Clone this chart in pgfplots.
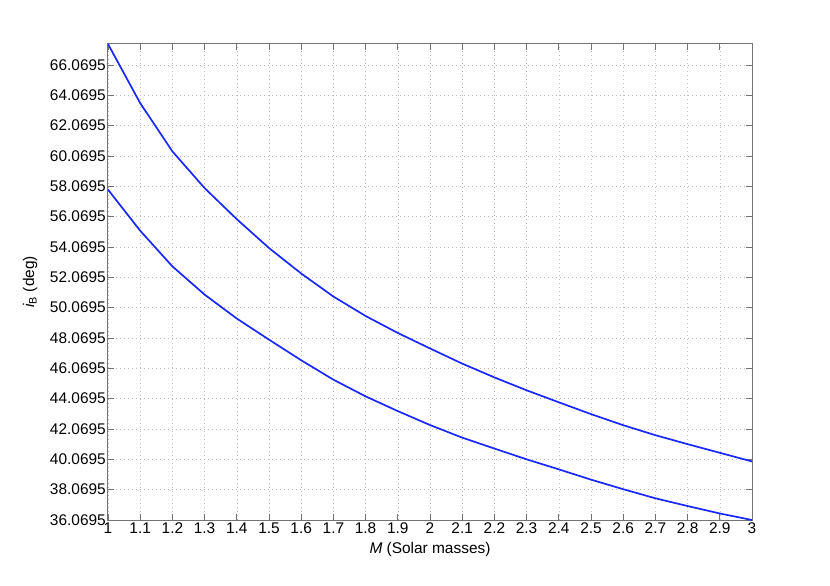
\documentclass[border=0pt]{standalone}
\usepackage{fontspec}
\setmainfont{Liberation Sans}
\usepackage{pgfplots}
\pgfplotsset{compat=1.18}
\usetikzlibrary{calc}
\definecolor{mlblue}{RGB}{25,40,255}

\begin{document}
\begin{tikzpicture}
\begin{axis}[
    scale only axis,
    width=644bp, height=476bp,
    xmin=1, xmax=3,
    ymin=36.0695, ymax=67.45,
    xtick={1,1.1,1.2,1.3,1.4,1.5,1.6,1.7,1.8,1.9,2,2.1,2.2,2.3,2.4,2.5,2.6,2.7,2.8,2.9,3},
    xticklabels={1,1.1,1.2,1.3,1.4,1.5,1.6,1.7,1.8,1.9,2,2.1,2.2,2.3,2.4,2.5,2.6,2.7,2.8,2.9,3},
    ytick={36.0695,38.0695,40.0695,42.0695,44.0695,46.0695,48.0695,50.0695,52.0695,54.0695,56.0695,58.0695,60.0695,62.0695,64.0695,66.0695},
    yticklabels={36.0695,38.0695,40.0695,42.0695,44.0695,46.0695,48.0695,50.0695,52.0695,54.0695,56.0695,58.0695,60.0695,62.0695,64.0695,66.0695},
    grid=major,
    major grid style={dash pattern=on 1bp off 3bp, gray!55, line width=0.6bp},
    axis line style={gray!90!black, line width=1bp},
    tick style={gray!90!black, line width=0.8bp},
    tick align=inside,
    major tick length=6bp,
    tick label style={font=\fontsize{15.5}{18}\selectfont},
    xticklabel style={inner sep=2bp, yshift=-1bp},
    yticklabel style={inner sep=2bp},
    label style={font=\fontsize{15.5}{18}\selectfont},
    xlabel={\textit{M} (Solar masses)},
    ylabel={\textit{i}\textsubscript{B} (deg)},
    xlabel style={at={(rel axis cs:0.5,-0.063)}, anchor=center},
    ylabel style={at={(rel axis cs:-0.121,0.5)}, anchor=center},
]
\coordinate (bl) at (rel axis cs:0,0);
\addplot[color=mlblue, line width=1.7bp] coordinates {
(1.0,67.45) (1.1,63.55) (1.2,60.37) (1.3,57.95) (1.4,55.90) (1.5,54.00)
(1.6,52.32) (1.7,50.80) (1.8,49.52) (1.9,48.40) (2.0,47.38) (2.1,46.38)
(2.2,45.47) (2.3,44.62) (2.4,43.83) (2.5,43.05) (2.6,42.32) (2.7,41.66)
(2.8,41.07) (2.9,40.50) (3.0,39.93)};
\addplot[color=mlblue, line width=1.7bp] coordinates {
(1.0,57.85) (1.1,55.14) (1.2,52.79) (1.3,50.93) (1.4,49.35) (1.5,47.96)
(1.6,46.60) (1.7,45.32) (1.8,44.22) (1.9,43.25) (2.0,42.33) (2.1,41.50)
(2.2,40.78) (2.3,40.07) (2.4,39.41) (2.5,38.73) (2.6,38.10) (2.7,37.50)
(2.8,36.99) (2.9,36.50) (3.0,36.0695)};
\end{axis}
\pgfresetboundingbox
\useasboundingbox ($(bl)+(-108bp,-66bp)$) rectangle ($(bl)+(722bp,520bp)$);
\end{tikzpicture}
\end{document}
